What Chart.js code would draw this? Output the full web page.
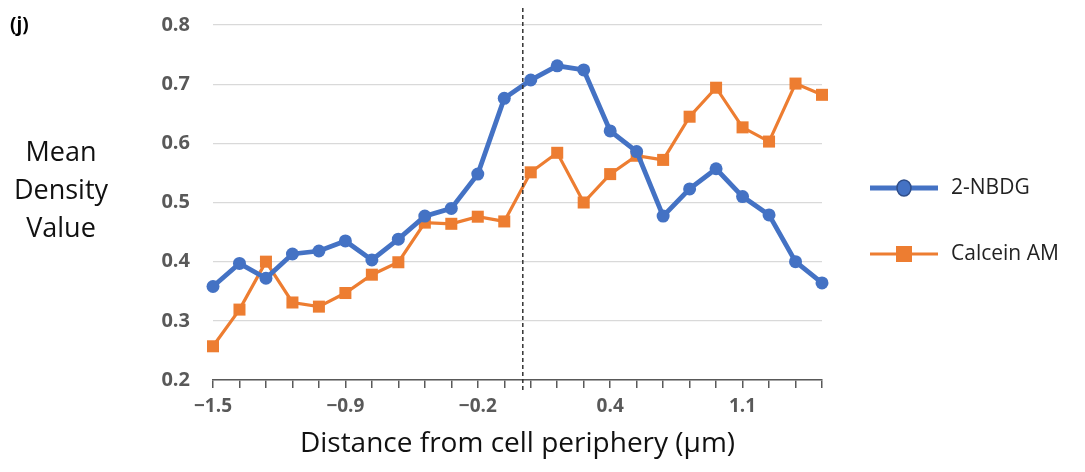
<!DOCTYPE html>
<html lang="en">
<head>
    <meta charset="UTF-8">
    <title>Mean Density Value vs Distance from cell periphery</title>
    <script src="https://cdn.jsdelivr.net/npm/chart.js"></script>
    <style>
        * { margin: 0; padding: 0; box-sizing: border-box; }
        body { background: #fff; font-family: 'Open Sans', sans-serif; }
        .wrap { position: relative; width: 1085px; height: 472px; }
        .panel-tag { position: absolute; left: 10px; top: 11px; font-size: 19px; font-weight: bold; color: #000; }
        .y-title { position: absolute; left: 0; top: 132px; width: 122px; text-align: center; font-size: 27px; line-height: 38px; color: #111; }
    </style>
</head>
<body>
    <div class="wrap">
        <canvas id="chart" width="1085" height="472"></canvas>
        <div class="panel-tag">(j)</div>
        <div class="y-title">Mean<br>Density<br>Value</div>
    </div>

    <script>
        // distance labels (um) - only every 5th one is printed on the axis
        const distances = ['−1.5', '−1.4', '−1.2', '−1.1', '−1.0', '−0.9', '−0.7', '−0.6', '−0.5', '−0.3',
                           '−0.2', '−0.1', '0.1', '0.2', '0.3', '0.4', '0.6', '0.7', '0.8', '1.0',
                           '1.1', '1.2', '1.4', '1.5'];
        const nbdg = [0.358, 0.397, 0.372, 0.413, 0.418, 0.435, 0.403, 0.438, 0.477, 0.490,
                      0.548, 0.676, 0.707, 0.731, 0.724, 0.621, 0.586, 0.477, 0.523, 0.557,
                      0.510, 0.479, 0.400, 0.364];
        const calcein = [0.257, 0.319, 0.400, 0.331, 0.324, 0.347, 0.378, 0.399, 0.466, 0.464,
                         0.476, 0.468, 0.551, 0.584, 0.500, 0.548, 0.579, 0.572, 0.645, 0.694,
                         0.627, 0.603, 0.701, 0.682];
        const yTicks = [0.2, 0.3, 0.4, 0.5, 0.6, 0.7, 0.8];
        // cell edge (dashed line) sits between the 12th and 13th sample
        const edgeIndex = 11.7;

        const BLUE = '#4472C4';
        const ORANGE = '#ED7D31';
        const GRAY = '#595959';

        // dashed line marking the cell periphery
        const edgeLine = {
            id: 'edgeLine',
            afterDatasetsDraw(chart) {
                const x = chart.scales.x.getPixelForValue(edgeIndex);
                const ctx = chart.ctx;
                ctx.save();
                ctx.strokeStyle = '#333';
                ctx.lineWidth = 1.5;
                ctx.setLineDash([4, 3]);
                ctx.beginPath();
                ctx.moveTo(x, chart.chartArea.top - 17);
                ctx.lineTo(x, chart.chartArea.bottom + 10);
                ctx.stroke();
                ctx.restore();
            }
        };

        // excel-style legend: line with marker through it
        const sideLegend = {
            id: 'sideLegend',
            afterDraw(chart) {
                const ctx = chart.ctx;
                const rows = [188, 254];
                chart.data.datasets.forEach((ds, i) => {
                    const y = rows[i];
                    ctx.save();
                    ctx.strokeStyle = ds.borderColor;
                    ctx.lineWidth = ds.borderWidth;
                    ctx.beginPath();
                    ctx.moveTo(870, y);
                    ctx.lineTo(938, y);
                    ctx.stroke();
                    ctx.fillStyle = ds.backgroundColor;
                    if (ds.pointStyle === 'rect') {
                        ctx.fillRect(896, y - 8, 16, 16);
                    } else {
                        ctx.beginPath();
                        ctx.ellipse(904, y, 7, 8, 0, 0, Math.PI * 2);
                        ctx.fill();
                        ctx.lineWidth = 1.5;
                        ctx.strokeStyle = '#2F4E8A';
                        ctx.stroke();
                    }
                    ctx.fillStyle = '#222';
                    ctx.font = '21px "Open Sans"';
                    ctx.textBaseline = 'middle';
                    ctx.fillText(ds.label, 951, y);
                    ctx.restore();
                });
            }
        };

        new Chart(document.getElementById('chart'), {
            type: 'line',
            data: {
                labels: distances,
                datasets: [
                    {
                        label: '2-NBDG',
                        data: nbdg,
                        borderColor: BLUE,
                        backgroundColor: BLUE,
                        borderWidth: 4.8,
                        pointStyle: 'circle',
                        pointRadius: 6.5,
                        pointBorderWidth: 0,
                        tension: 0
                    },
                    {
                        label: 'Calcein AM',
                        data: calcein,
                        borderColor: ORANGE,
                        backgroundColor: ORANGE,
                        borderWidth: 3.2,
                        pointStyle: 'rect',
                        pointRadius: 8.5,
                        pointBorderWidth: 0,
                        tension: 0
                    }
                ]
            },
            options: {
                responsive: false,
                animation: false,
                clip: false,
                layout: { autoPadding: false, padding: { left: 0, right: 263, top: 25, bottom: 0 } },
                plugins: {
                    legend: { display: false },
                    tooltip: { enabled: false }
                },
                scales: {
                    x: {
                        offset: false,
                        afterFit(scale) { scale.height = 92; },
                        grid: {
                            drawOnChartArea: false,
                            drawTicks: true,
                            tickLength: 8,
                            tickColor: GRAY,
                            lineWidth: 1.5
                        },
                        border: { display: true, color: GRAY, width: 1.5 },
                        ticks: {
                            autoSkip: false,
                            maxRotation: 0,
                            padding: 7,
                            color: GRAY,
                            font: { family: 'Open Sans', size: 19, weight: 'bold' },
                            callback(value, index) {
                                return index % 5 === 0 ? distances[index] : '';
                            }
                        },
                        title: {
                            display: true,
                            text: 'Distance from cell periphery (μm)',
                            color: '#111',
                            font: { family: 'Open Sans', size: 28 },
                            padding: { top: 0, bottom: 11 }
                        }
                    },
                    y: {
                        min: 0.2,
                        max: 0.8,
                        afterFit(scale) {
                            scale.width = 213;
                            // label padding is horizontal only here; don't let it push the plot down
                            scale.paddingTop = 0;
                            scale.paddingBottom = 0;
                        },
                        afterBuildTicks(scale) {
                            scale.ticks = yTicks.map(v => ({ value: v }));
                        },
                        grid: { color: '#D9D9D9', lineWidth: 1.3, drawTicks: false },
                        border: { display: false },
                        ticks: {
                            padding: 23,
                            color: GRAY,
                            font: { family: 'Open Sans', size: 20, weight: 'bold' },
                            callback: v => v.toFixed(1)
                        }
                    }
                }
            },
            plugins: [edgeLine, sideLegend]
        });
    </script>
</body>
</html>
